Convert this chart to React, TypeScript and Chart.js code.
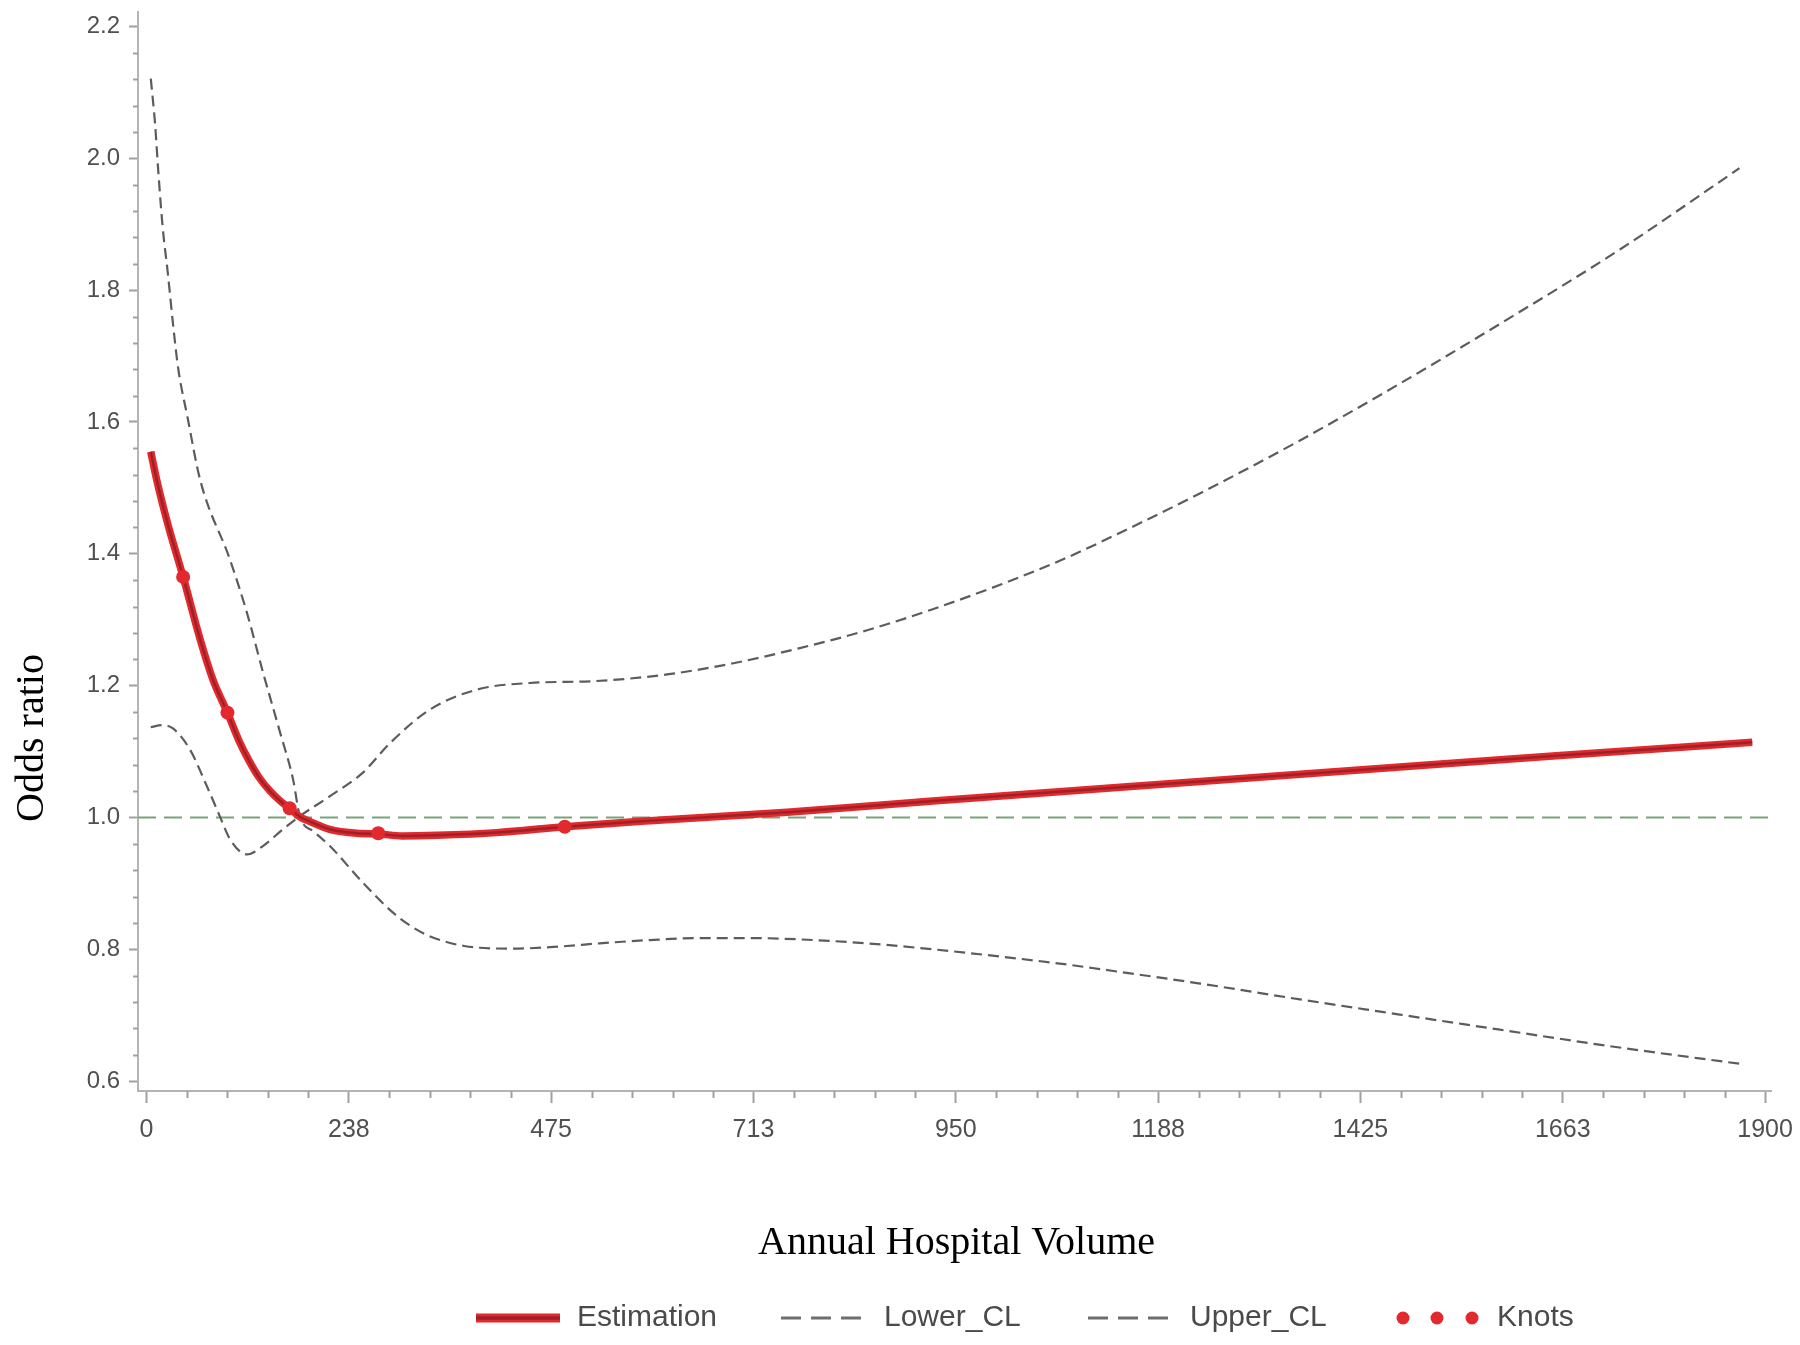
import React, { useEffect, useRef } from 'react';
import { Chart, registerables } from 'chart.js';

Chart.register(...registerables);

const W = 1800;
const H = 1345;

// ---- data ----
const estX = [5, 12, 25, 43, 63, 78, 95, 108, 120, 132, 145, 157, 168, 180, 188, 215, 247, 272, 300, 341, 411, 491, 591, 752, 923, 1143, 1423, 1659, 1885];
const estY = [1.555, 1.512, 1.445, 1.365, 1.27, 1.209, 1.159, 1.118, 1.087, 1.061, 1.04, 1.025, 1.014, 1.001, 0.996, 0.982, 0.976, 0.975, 0.972, 0.973, 0.977, 0.986, 0.995, 1.008, 1.025, 1.046, 1.072, 1.094, 1.114];

const knotX = [43, 95, 168, 272, 491];
const knotY = [1.365, 1.159, 1.014, 0.976, 0.986];

const lowerX = [5, 18, 31, 51, 71, 86, 98, 118, 137, 160, 180, 215, 254, 286, 333, 388, 450, 528, 611, 689, 767, 846, 923, 1002, 1080, 1143, 1237, 1354, 1471, 1589, 1730, 1870];
const lowerY = [1.137, 1.14, 1.135, 1.103, 1.047, 1.002, 0.967, 0.944, 0.957, 0.982, 1.002, 1.032, 1.068, 1.113, 1.164, 1.194, 1.204, 1.207, 1.217, 1.234, 1.257, 1.284, 1.316, 1.353, 1.394, 1.432, 1.492, 1.572, 1.658, 1.749, 1.862, 1.985];

const upperX = [5, 10, 14, 19, 25, 31, 37, 48, 63, 98, 118, 137, 157, 172, 180, 197, 215, 254, 289, 313, 332, 373, 430, 483, 532, 591, 650, 710, 767, 846, 923, 1002, 1080, 1119, 1237, 1354, 1471, 1589, 1718, 1872];
const upperY = [2.121, 2.053, 1.977, 1.895, 1.826, 1.75, 1.683, 1.608, 1.512, 1.391, 1.31, 1.219, 1.128, 1.058, 1.002, 0.978, 0.957, 0.901, 0.856, 0.833, 0.82, 0.805, 0.801, 0.804, 0.809, 0.814, 0.817, 0.817, 0.815, 0.809, 0.8, 0.789, 0.777, 0.77, 0.748, 0.724, 0.701, 0.678, 0.653, 0.626];

const refX = [-10, 1907];
const refY = [1, 1];

const xMajorTicks = [0, 237.5, 475, 712.5, 950, 1187.5, 1425, 1662.5, 1900];
const xMinorStep = 47.5;
const yMajorTicks = [0.6, 0.8, 1.0, 1.2, 1.4, 1.6, 1.8, 2.0, 2.2];
const yMinorStep = 0.04;

const legendLabels = ['Estimation', 'Lower_CL', 'Upper_CL', 'Knots'];
const xTitle = 'Annual Hospital Volume';
const yTitle = 'Odds ratio';

const SANS = '"Liberation Sans", Arial, Helvetica, sans-serif';
const SERIF = '"Liberation Serif", "Times New Roman", Times, serif';

const RED = '#e2292e';
const DARK_RED = '#9f2126';
const GRAY = '#5c5c5c';
const GREEN = '#7aa37a';

const zip = (xs: number[], ys: number[]) => xs.map((x, i) => ({ x, y: ys[i] }));

const decorPlugin = {
  id: 'decor',
  afterDraw(chart: any) {
    const { ctx, chartArea: area } = chart;
    const xs = chart.scales.x;
    const ys = chart.scales.y;
    ctx.save();
    // minor ticks
    ctx.strokeStyle = '#a0a0a0';
    ctx.lineWidth = 2;
    ctx.setLineDash([]);
    for (let v = 0; v <= 1900 + 1e-6; v += xMinorStep) {
      if (xMajorTicks.some((m) => Math.abs(m - v) < 1e-6)) continue;
      const px = Math.round(xs.getPixelForValue(v)) + 0.5;
      ctx.beginPath();
      ctx.moveTo(px, area.bottom);
      ctx.lineTo(px, area.bottom + 7);
      ctx.stroke();
    }
    for (let v = 0.6; v <= 2.2 + 1e-6; v += yMinorStep) {
      if (yMajorTicks.some((m) => Math.abs(m - v) < 1e-6)) continue;
      const py = Math.round(ys.getPixelForValue(v)) + 0.5;
      ctx.beginPath();
      ctx.moveTo(area.left - 5, py);
      ctx.lineTo(area.left, py);
      ctx.stroke();
    }

    // axis titles
    ctx.fillStyle = '#000';
    ctx.font = `40px ${SERIF}`;
    ctx.textAlign = 'center';
    ctx.textBaseline = 'alphabetic';
    ctx.fillText(xTitle, (area.left + area.right) / 2 + 2, 1254);
    ctx.save();
    ctx.translate(43, 738);
    ctx.rotate(-Math.PI / 2);
    ctx.fillText(yTitle, 0, 0);
    ctx.restore();

    // legend
    const ly = 1318;
    ctx.font = `30px ${SANS}`;
    ctx.fillStyle = '#4a4a4a';
    ctx.textAlign = 'left';
    ctx.textBaseline = 'middle';
    // Estimation
    ctx.lineCap = 'butt';
    ctx.strokeStyle = RED;
    ctx.lineWidth = 9;
    ctx.beginPath();
    ctx.moveTo(476, ly);
    ctx.lineTo(560, ly);
    ctx.stroke();
    ctx.strokeStyle = DARK_RED;
    ctx.lineWidth = 3.5;
    ctx.beginPath();
    ctx.moveTo(476, ly);
    ctx.lineTo(560, ly);
    ctx.stroke();
    ctx.fillText(legendLabels[0], 577, ly);
    // Lower / Upper
    ctx.strokeStyle = '#6e6e6e';
    ctx.lineWidth = 3;
    ctx.setLineDash([20, 10]);
    ctx.beginPath();
    ctx.moveTo(781, ly);
    ctx.lineTo(861, ly);
    ctx.stroke();
    ctx.beginPath();
    ctx.moveTo(1088, ly);
    ctx.lineTo(1168, ly);
    ctx.stroke();
    ctx.setLineDash([]);
    ctx.fillText(legendLabels[1], 884, ly);
    ctx.fillText(legendLabels[2], 1190, ly);
    // Knots
    ctx.fillStyle = RED;
    [1403, 1437, 1472].forEach((cx) => {
      ctx.beginPath();
      ctx.arc(cx, ly, 6.5, 0, Math.PI * 2);
      ctx.fill();
    });
    ctx.fillStyle = '#4a4a4a';
    ctx.fillText(legendLabels[3], 1497, ly);
    ctx.restore();
  },
};

export default function App() {
  const ref = useRef<HTMLCanvasElement>(null);

  useEffect(() => {
    const canvas = ref.current;
    if (!canvas) return;
    const chart = new Chart(canvas, {
      type: 'line',
      data: {
        datasets: [
          {
            label: 'Knots',
            data: zip(knotX, knotY),
            showLine: false,
            pointRadius: 7,
            pointBackgroundColor: RED,
            pointBorderColor: RED,
            pointBorderWidth: 0,
          },
          {
            label: 'Estimation core',
            data: zip(estX, estY),
            borderColor: DARK_RED,
            borderWidth: 2.5,
            pointRadius: 0,
            cubicInterpolationMode: 'monotone',
          },
          {
            label: 'Estimation',
            data: zip(estX, estY),
            borderColor: RED,
            borderWidth: 7.5,
            pointRadius: 0,
            cubicInterpolationMode: 'monotone',
          },
          {
            label: 'Lower_CL',
            data: zip(lowerX, lowerY),
            borderColor: GRAY,
            borderWidth: 2.2,
            borderDash: [11, 6],
            pointRadius: 0,
            cubicInterpolationMode: 'monotone',
          },
          {
            label: 'Upper_CL',
            data: zip(upperX, upperY),
            borderColor: GRAY,
            borderWidth: 2.2,
            borderDash: [11, 6],
            pointRadius: 0,
            cubicInterpolationMode: 'monotone',
          },
          {
            label: 'Reference',
            data: zip(refX, refY),
            borderColor: GREEN,
            borderWidth: 2,
            borderDash: [18, 8],
            pointRadius: 0,
          },
        ],
      } as any,
      options: {
        animation: false,
        responsive: false,
        devicePixelRatio: 1,
        events: [],
        layout: {
          padding: { left: 0, top: 12, right: 29, bottom: 0 },
          autoPadding: false,
        } as any,
        plugins: {
          legend: { display: false },
          tooltip: { enabled: false },
          title: { display: false },
        },
        scales: {
          x: {
            type: 'linear',
            min: -10,
            max: 1907,
            afterBuildTicks: (s: any) => {
              s.ticks = xMajorTicks.map((v) => ({ value: v }));
            },
            afterFit: (s: any) => {
              s.height = 254;
              s.paddingLeft = 0;
              s.paddingRight = 0;
            },
            border: { display: true, color: '#b4b4b4', width: 2 },
            grid: {
              display: true,
              drawOnChartArea: false,
              drawTicks: true,
              tickLength: 12,
              tickColor: '#a0a0a0',
              tickWidth: 2,
            },
            ticks: {
              color: '#505050',
              padding: 12,
              maxRotation: 0,
              autoSkip: false,
              font: { family: SANS, size: 25 },
              callback: (v: any) => String(Math.round(Number(v))),
            },
          },
          y: {
            type: 'linear',
            min: 0.585,
            max: 2.222,
            afterBuildTicks: (s: any) => {
              s.ticks = yMajorTicks.map((v) => ({ value: v }));
            },
            afterFit: (s: any) => {
              s.width = 138;
              s.paddingTop = 0;
              s.paddingBottom = 0;
            },
            border: { display: true, color: '#b4b4b4', width: 2 },
            grid: {
              display: true,
              drawOnChartArea: false,
              drawTicks: true,
              tickLength: 9,
              tickColor: '#a0a0a0',
              tickWidth: 2,
            },
            ticks: {
              color: '#505050',
              padding: 9,
              autoSkip: false,
              font: { family: SANS, size: 24 },
              callback: (v: any) => Number(v).toFixed(1),
            },
          },
        },
      } as any,
      plugins: [decorPlugin],
    });
    return () => chart.destroy();
  }, []);

  return (
    <div style={{ position: 'absolute', left: 0, top: 0, width: W, height: H, background: '#ffffff' }}>
      <canvas ref={ref} width={W} height={H} style={{ display: 'block', width: W, height: H }} />
    </div>
  );
}
